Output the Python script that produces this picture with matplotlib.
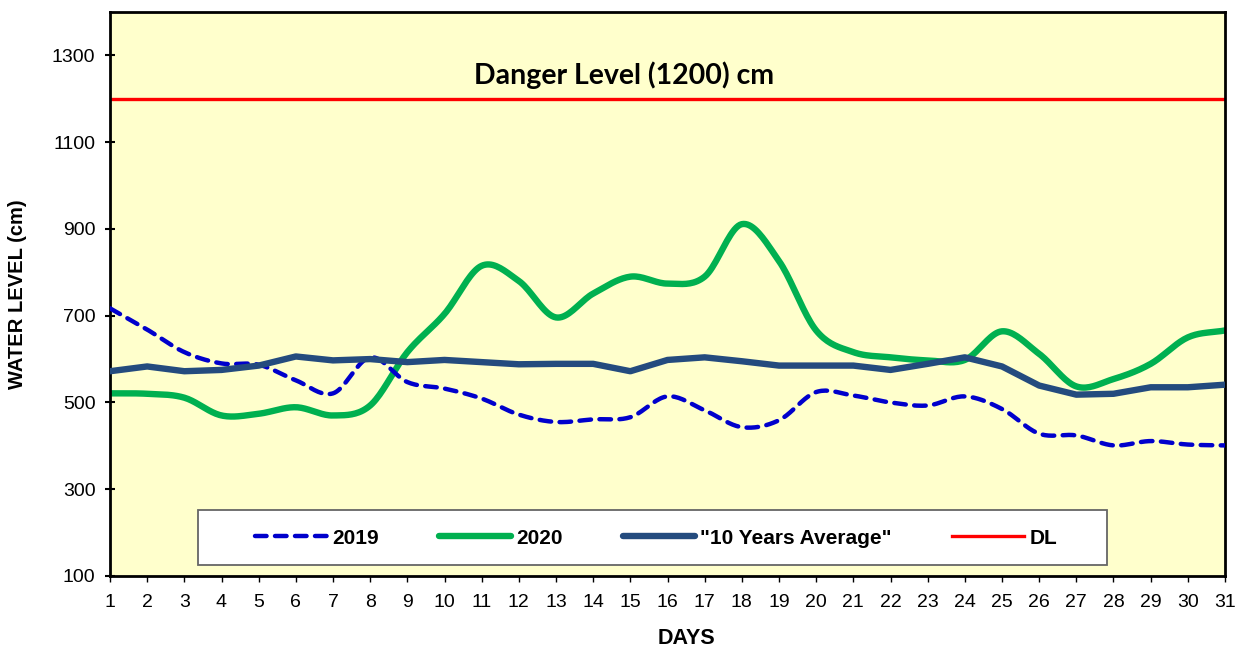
import numpy as np
import matplotlib
matplotlib.use("Agg")
import matplotlib.pyplot as plt
from matplotlib.patches import Rectangle

plt.rcParams['font.family'] = ['Liberation Sans', 'DejaVu Sans']

days = list(range(1, 32))
y2019 = [717, 668, 616, 590, 587, 551, 521, 604, 547, 532, 509, 472,
         455, 461, 466, 514, 482, 443, 459, 524, 516, 500, 493, 514,
         485, 428, 424, 401, 411, 403, 401]
y2020 = [521, 520, 511, 470, 474, 489, 470, 493, 616, 704, 815, 780,
         696, 751, 790, 774, 790, 911, 826, 666, 616, 604, 597, 598,
         664, 612, 537, 554, 589, 650, 666]
yavg = [572, 583, 572, 575, 585, 606, 597, 600, 593, 598, 593, 588,
        589, 589, 572, 598, 604, 595, 585, 585, 585, 575, 589, 604,
        583, 539, 518, 520, 535, 535, 541]
danger_level = 1200
yticks = [100, 300, 500, 700, 900, 1100, 1300]


def smooth(x, y, n=20):
    """Catmull-Rom spline through the points, for a smoothed-line look."""
    x = np.asarray(x, float)
    y = np.asarray(y, float)
    px = np.concatenate([[2 * x[0] - x[1]], x, [2 * x[-1] - x[-2]]])
    py = np.concatenate([[2 * y[0] - y[1]], y, [2 * y[-1] - y[-2]]])
    xs, ys = [], []
    t = np.linspace(0, 1, n, endpoint=False)
    for i in range(1, len(px) - 2):
        for arr, out in ((px, xs), (py, ys)):
            p0, p1, p2, p3 = arr[i - 1], arr[i], arr[i + 1], arr[i + 2]
            out.extend(0.5 * ((2 * p1) + (-p0 + p2) * t
                              + (2 * p0 - 5 * p1 + 4 * p2 - p3) * t ** 2
                              + (-p0 + 3 * p1 - 3 * p2 + p3) * t ** 3))
    xs.append(x[-1])
    ys.append(y[-1])
    return np.array(xs), np.array(ys)


fig = plt.figure(figsize=(12.45, 6.54), dpi=100)
ax = fig.add_axes([110 / 1245, 1 - 576 / 654, 1115 / 1245, 564 / 654])
ax.set_facecolor('#FFFFCC')

sx, sy = smooth(days, y2019)
ax.plot(sx, sy, color='#0000CC', lw=3.2, dashes=(2.6, 1.9),
        dash_capstyle='round', label='2019', zorder=3)
sx, sy = smooth(days, y2020)
ax.plot(sx, sy, color='#00B050', lw=4.6, solid_capstyle='round',
        label='2020', zorder=2)
ax.plot(days, yavg, color='#244B7E', lw=4.6, solid_capstyle='round',
        solid_joinstyle='round', label='"10 Years Average"', zorder=4)
ax.plot([days[0], days[-1]], [danger_level, danger_level], color='#FF0000',
        lw=2.4, label='DL', zorder=2)

ax.text(14.84, 1233, 'Danger Level (1200) cm', fontsize=20.5, fontweight='bold',
        ha='center', va='baseline', family=['Lato', 'DejaVu Sans'])

ax.set_xlim(1, 31)
ax.set_ylim(100, 1400)
ax.set_xticks(days)
ax.set_yticks(yticks)
ax.tick_params(axis='x', labelsize=14, direction='out', length=4, width=1, pad=9)
ax.tick_params(axis='y', labelsize=14, direction='inout', length=7, width=1.5, pad=7)
for s in ax.spines.values():
    s.set_linewidth(2)
    s.set_color('black')

ax.set_xlabel('DAYS', fontsize=15.5, fontweight='bold', va='top')
ax.xaxis.set_label_coords(0.5166, -(628 - 576) / 564)
ax.set_ylabel('WATER LEVEL (cm)', fontsize=14.5, fontweight='bold')
ax.yaxis.set_label_coords((27 - 110) / 1115, 0.5)

# legend frame box (as in the reference, wider than its entries)
ax.add_patch(Rectangle((88 / 1115, 11 / 564), 909 / 1115, 55 / 564,
                       transform=ax.transAxes, facecolor='white',
                       edgecolor='#666666', lw=1.3, zorder=5))
leg = ax.legend(loc='center', ncol=4, frameon=False,
                bbox_to_anchor=((656 - 110) / 1115, (576 - 538) / 564),
                prop={'weight': 'bold', 'size': 15}, handlelength=3.45,
                handletextpad=0.25, columnspacing=2.9, borderaxespad=0)
leg.set_zorder(6)

fig.savefig('out.png', dpi=100, facecolor='white')
